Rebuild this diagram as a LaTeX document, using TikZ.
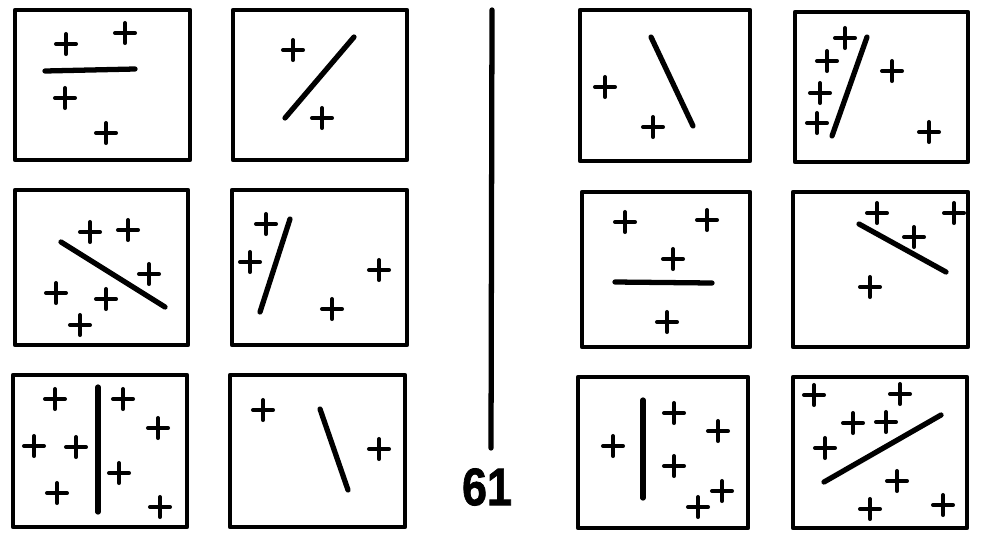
\documentclass[tikz,border=0pt]{standalone}
\usepackage{fontspec}
\setmainfont{Liberation Sans}
\newfontfamily\numfont[FakeBold=1.5]{Liberation Sans Bold}
\usetikzlibrary{positioning}

\begin{document}
\begin{tikzpicture}[
    x=0.02cm, y=-0.02cm,
    panel/.style={draw, line width=2.4pt, line join=round},
    bar/.style={line width=3pt, line cap=round},
    cross/.style={line width=2.3pt, line cap=round}
]
\useasboundingbox (0,0) rectangle (982,545);

% Panels, left half
\draw[panel] (15,10) rectangle (190,160);
\draw[panel] (233,10) rectangle (407,160);
\draw[panel] (15,190) rectangle (188,345);
\draw[panel] (232,190) rectangle (407,345);
\draw[panel] (13,375) rectangle (187,527);
\draw[panel] (230,375) rectangle (405,527);

% Panels, right half
\draw[panel] (580,10) rectangle (750,161);
\draw[panel] (795,12) rectangle (968,162);
\draw[panel] (582,192) rectangle (750,347);
\draw[panel] (793,192) rectangle (968,347);
\draw[panel] (578,377) rectangle (748,528);
\draw[panel] (793,377) rectangle (967,528);

% Separator and number
\draw[line width=3pt, line cap=round] (492,10) -- (491,448);
\node[font=\numfont\fontsize{30}{30}\selectfont, xscale=0.85] (num) at (487,487) {61};

% Bars
\draw[bar] (45,71) -- (135,69);
\draw[bar] (285,118) -- (354,37);
\draw[bar] (61,242) -- (165,307);
\draw[bar] (290,219) -- (260,312);
\draw[bar] (98,387) -- (98,512);
\draw[bar] (320,409) -- (348,490);
\draw[bar] (651,37) -- (693,126);
\draw[bar] (867,37) -- (832,136);
\draw[bar] (615,282) -- (712,283);
\draw[bar] (859,224) -- (946,272);
\draw[bar] (643,400) -- (643,498);
\draw[bar] (824,482) -- (941,415);

% Crosses
\foreach \x/\y in {66/44, 125/33, 65/98, 106/133,
                   293/50, 322/118,
                   90/232, 128/230, 149/274, 56/293, 106/299, 80/325,
                   266/224, 250/262, 379/270, 332/309,
                   55/399, 123/399, 158/428, 34/446, 76/447, 119/473, 57/493, 160/507,
                   263/410, 379/449,
                   605/87, 653/127,
                   845/38, 827/61, 820/93, 817/123, 892/71, 929/132,
                   625/222, 707/220, 673/259, 667/322,
                   877/213, 954/213, 914/237, 870/287,
                   613/446, 674/413, 718/431, 674/466, 722/491, 698/507,
                   814/395, 900/394, 853/423, 886/422, 825/448, 897/481, 870/509, 943/505} {
    \draw[cross] (\x-10,\y) -- (\x+10,\y) (\x,\y-10) -- (\x,\y+10);
}
\end{tikzpicture}
\end{document}
